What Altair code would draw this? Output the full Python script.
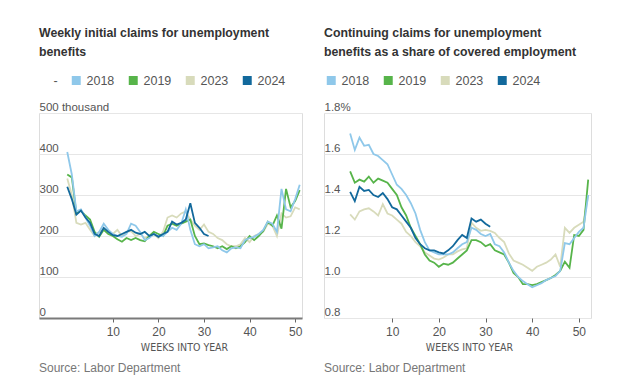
import altair as alt
import pandas as pd

# ---------------- data ----------------
years = ["2018", "2019", "2023", "2024"]
colors = ["#8fc8ea", "#57b44a", "#d8dbbb", "#12699c"]
draw_order = ["2023", "2019", "2018", "2024"]

# Weekly initial claims (thousands), weeks 0..51
init_weeks = list(range(0, 52))
init_2018 = [405, 350, 260, 265, 245, 225, 200, 210, 230, 215,
             205, 200, 198, 205, 230, 225, 210, 190, 195, 205,
             200, 200, 210, 220, 215, 230, 265, 215, 180, 175,
             180, 170, 172, 175, 165, 160, 170, 172, 170, 190,
             195, 198, 205, 215, 235, 230, 210, 315, 265, 260,
             290, 325]
init_2019 = [350, 343, 255, 262, 250, 240, 210, 198, 215, 205,
             200, 192, 186, 195, 190, 195, 190, 187, 200, 210,
             205, 200, 225, 230, 225, 230, 235, 240, 200, 180,
             182, 178, 175, 170, 175, 168, 175, 170, 175, 185,
             200, 190, 200, 212, 235, 225, 250, 218, 315, 270,
             285, 312]
init_2023 = [340, 300, 232, 228, 232, 215, 200, 210, 215, 210,
             205, 215, 200, 210, 212, 200, 205, 195, 200, 205,
             195, 210, 245, 250, 245, 255, 260, 240, 225, 215,
             228, 210, 205, 195, 190, 180, 175, 175, 180, 195,
             185, 200, 205, 210, 230, 225, 200, 255, 245, 248,
             270, 265]
init_2024 = [320, 290, 252, 262, 245, 232, 205, 200, 220, 210,
             202, 200, 205, 210, 215, 208, 205, 210, 200, 205,
             198, 205, 210, 235, 228, 232, 240, 280, 232, 220,
             205, 200]

# Continuing claims as share of covered employment (%), weeks 1..52
cont_weeks = list(range(1, 53))
cont_2018 = [1.70, 1.62, 1.68, 1.64, 1.645, 1.60, 1.59, 1.57, 1.55, 1.50,
             1.45, 1.43, 1.40, 1.36, 1.31, 1.23, 1.17, 1.13, 1.12, 1.11,
             1.11, 1.11, 1.12, 1.14, 1.16, 1.17, 1.24, 1.23, 1.21, 1.20,
             1.21, 1.16, 1.15, 1.12, 1.07, 1.03, 1.00, 0.98, 0.965, 0.95,
             0.96, 0.97, 0.985, 0.995, 1.005, 1.03, 1.165, 1.16, 1.19, 1.22,
             1.24, 1.40]
cont_2019 = [1.515, 1.46, 1.475, 1.465, 1.49, 1.46, 1.48, 1.47, 1.46, 1.43,
             1.40, 1.34, 1.30, 1.24, 1.20, 1.16, 1.11, 1.08, 1.07, 1.05,
             1.065, 1.06, 1.07, 1.09, 1.11, 1.13, 1.18, 1.18, 1.17, 1.15,
             1.16, 1.13, 1.12, 1.11, 1.07, 1.02, 1.00, 0.965, 0.965, 0.96,
             0.965, 0.975, 0.985, 0.995, 1.01, 1.03, 1.075, 1.045, 1.205, 1.20,
             1.23, 1.475]
cont_2023 = [1.305, 1.28, 1.32, 1.33, 1.335, 1.32, 1.30, 1.355, 1.31, 1.30,
             1.28, 1.26, 1.22, 1.20, 1.17, 1.15, 1.12, 1.105, 1.09, 1.085,
             1.095, 1.11, 1.11, 1.125, 1.135, 1.14, 1.265, 1.24, 1.225, 1.23,
             1.225, 1.215, 1.19, 1.17, 1.115, 1.08, 1.07, 1.06, 1.045, 1.03,
             1.05, 1.06, 1.07, 1.085, 1.11, 1.05, 1.24, 1.215, 1.24, 1.255,
             1.27, 1.40]
cont_2024 = [1.415, 1.37, 1.44, 1.42, 1.425, 1.40, 1.39, 1.41, 1.38, 1.34,
             1.33, 1.30, 1.27, 1.24, 1.19, 1.16, 1.14, 1.13, 1.13, 1.12,
             1.115, 1.13, 1.15, 1.18, 1.205, 1.19, 1.285, 1.27, 1.28, 1.26,
             1.245]

init_ticks = [0, 100, 200, 300, 400, 500]
cont_ticks = [0.8, 1.0, 1.2, 1.4, 1.6, 1.8]
x_ticks = [10, 20, 30, 40, 50]

left_title = ["Weekly initial claims for unemployment", "benefits"]
right_title = ["Continuing claims for unemployment",
               "benefits as a share of covered employment"]
x_title = "WEEKS INTO YEAR"
source = "Source: Labor Department"


def long_frame(weeks, series):
    rows = []
    for yr in draw_order:
        vals = series[yr]
        for w, v in zip(weeks, vals):
            rows.append({"week": w, "value": v, "year": yr})
    return pd.DataFrame(rows)


init_df = long_frame(init_weeks, {"2018": init_2018, "2019": init_2019,
                                  "2023": init_2023, "2024": init_2024})
cont_df = long_frame(cont_weeks, {"2018": cont_2018, "2019": cont_2019,
                                  "2023": cont_2023, "2024": cont_2024})

FONT = "Liberation Sans"
NARROW = "Liberation Sans Narrow, DejaVu Sans Condensed, Liberation Sans"
FS = "\u2007"


def panel(df, width, height, xdom, ydom, yticks, ylabel_expr, show_domain,
          cdomain, crange, legend_x, legend_y, title_lines):
    x_axis = alt.Axis(values=x_ticks, title=x_title, grid=False,
                      domain=show_domain, domainColor="#7a7a7a", domainWidth=2,
                      ticks=True, tickColor="#666", tickSize=4, tickWidth=1,
                      labelFontSize=12, labelColor="#555", labelPadding=4,
                      labelFlush=False, labelFont=FONT,
                      titleFont=NARROW, titleFontSize=10.5, titleFontWeight="normal",
                      titleColor="#555", titlePadding=5, titleX=145)
    y_axis = alt.Axis(values=yticks, title=None, grid=True, gridColor="#e6e6e6",
                      gridWidth=1, domain=False, ticks=False, tickSize=0,
                      labelAlign="left", labelBaseline="alphabetic",
                      labelPadding=0, labelOffset=-3, labelExpr=ylabel_expr,
                      labelFontSize=11.5, labelColor="#555", labelFont=FONT,
                      labelFlush=False, labelOverlap=False)
    lines = alt.Chart(df).mark_line(strokeWidth=1.8).encode(
        x=alt.X("week:Q", scale=alt.Scale(domain=xdom, nice=False, zero=False),
                axis=x_axis),
        y=alt.Y("value:Q", scale=alt.Scale(domain=ydom, nice=False, zero=False),
                axis=y_axis),
        color=alt.Color("year:N",
                        scale=alt.Scale(domain=cdomain, range=crange),
                        legend=alt.Legend(orient="none", legendX=legend_x,
                                          legendY=legend_y, direction="horizontal",
                                          title=None, symbolType="square",
                                          symbolSize=20, symbolStrokeWidth=4.5,
                                          labelFontSize=12.5, labelColor="#555",
                                          labelFont=FONT, labelOffset=4,
                                          columnPadding=7, padding=0)),
        detail="year:N",
    )
    src = alt.Chart(pd.DataFrame({"t": [source]})).mark_text(
        align="left", baseline="alphabetic", fontSize=12, color="#777", font=FONT
    ).encode(x=alt.value(0), y=alt.value(height + 54), text="t:N")
    return alt.layer(lines, src).properties(
        width=width, height=height,
        title=alt.TitleParams(text=title_lines, anchor="start", frame="group",
                              fontSize=12.3, fontWeight="bold", color="#333",
                              font=FONT, lineHeight=19, offset=16),
    )


left = panel(init_df, 263, 205, [-6.2, 51.5], [0, 500], init_ticks,
             "datum.value == 500 ? '500 thousand' : (datum.value == 0 ? '" + FS + FS + "0' : datum.label)",
             True,
             ["-"] + years, ["rgba(0,0,0,0)"] + colors, -2, -39, left_title)

right = panel(cont_df, 267, 205, [-4.6, 52.6], [0.8, 1.8], cont_ticks,
              "datum.value >= 1.79 ? format(datum.value, '.1f') + '%' : format(datum.value, '.1f')",
              False,
              years, colors, 1, -39, right_title)

chart = alt.hconcat(left, right, spacing=19).resolve_scale(
    color="independent").resolve_legend(color="independent").properties(
    padding={"left": 28, "top": 18, "right": 5, "bottom": 5}
).configure_view(stroke=None).configure(font=FONT)

chart.save("out.html", embed_options={"renderer": "svg", "actions": False})
